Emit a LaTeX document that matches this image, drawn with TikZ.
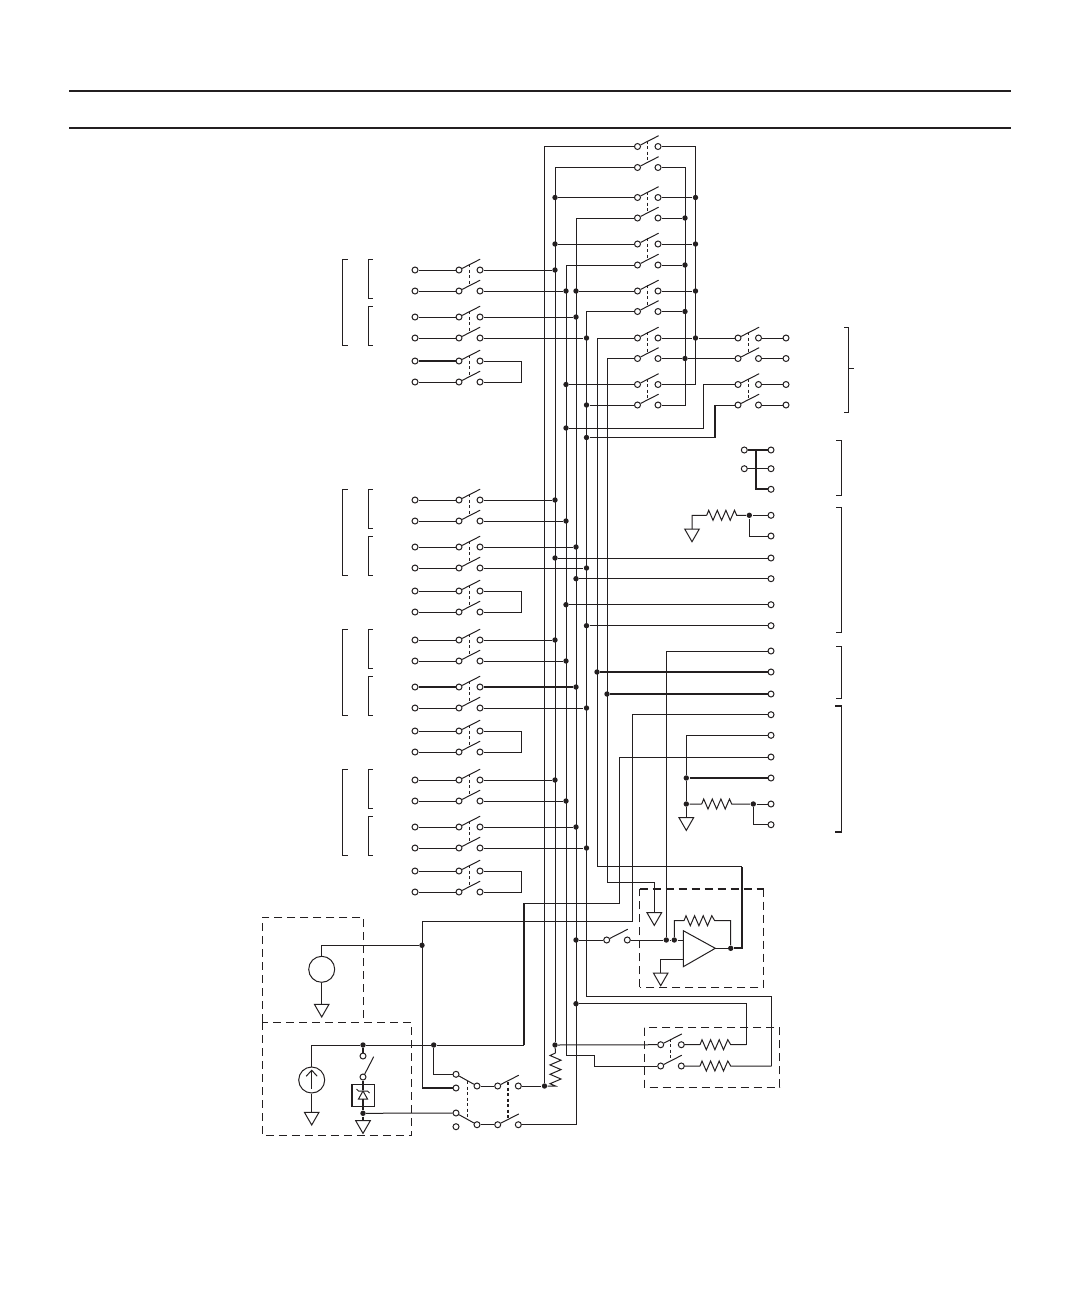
\documentclass[tikz,border=0pt]{standalone}
\usetikzlibrary{arrows.meta}
\definecolor{ink}{HTML}{231F20}
\tikzset{
  x=1pt,y=-1pt,
  term/.style={circle,draw=ink,line width=1pt,fill=white,inner sep=0pt,minimum size=6pt},
  jdot/.style={circle,fill=ink,draw=none,inner sep=0pt,minimum size=5.4pt},
  heavy/.style={line width=2pt},
  dashlink/.style={line width=1pt,dash pattern=on 3pt off 2.5pt},
  boxdash/.style={line width=1pt,dash pattern=on 8pt off 5pt},
  resh/.style={to path={(\tikztostart) -- ++(2,-5) -- ++(4.3,10) -- ++(4.3,-10) -- ++(4.3,10) -- ++(4.3,-10) -- ++(4.3,10) -- ++(4.3,-10) -- (\tikztotarget)}},
  resv/.style={to path={(\tikztostart) -- ++(-5.5,2.5) -- ++(11,4.7) -- ++(-11,4.7) -- ++(11,4.7) -- ++(-11,4.7) -- ++(11,4.7) -- ++(-11,4.7) -- (\tikztotarget)}},
}
\newcommand\swt[4]{%
  \node[term] (#1L) at (#2,#4) {};
  \node[term] (#1R) at (#3,#4) {};
  \draw (#1L.27) -- ++(18,-9.2);
}
\newcommand\lnk[2]{\draw[dashlink] ([shift={(10,-6)}]#1L.center) -- ([shift={(10,-6)}]#2L.center);}
\newcommand\gnd[3]{%
  \coordinate (#1) at (#2,#3);
  \draw ([shift={(-7.3,0)}]#1) -- ([shift={(7.3,0)}]#1) -- ([shift={(0,12.7)}]#1) -- cycle;
}
\newcommand\brk[4]{%  x, tick end, y1, y2
  \draw (#2,#3) -- (#1,#3) -- (#1,#4) -- (#2,#4);
}
\begin{document}
\begin{tikzpicture}[color=ink,line width=1pt,line join=miter]
\useasboundingbox (0,0) rectangle (1080,1296);
% header rules
\coordinate (h1a) at (69,91); \coordinate (h1b) at (1011,91);
\coordinate (h2a) at (69,128); \coordinate (h2b) at (1011,128);
\draw[line width=2pt] (h1a) -- (h1b);
\draw[line width=2pt] (h2a) -- (h2b);

% left switch groups
\foreach \grp/\off in {a/0,b/230,c/370,d/510}{
  \foreach \rw/\dy in {1/0,2/21,3/47,4/68,5/91,6/112}{
    \pgfmathsetmacro\yy{270+\off+\dy}
    \node[term] (\grp\rw i) at (415,\yy) {};
    \swt{\grp\rw}{459}{480}{\yy}
    \draw (\grp\rw i) -- (\grp\rw L);
  }
  \lnk{\grp1}{\grp2}\lnk{\grp3}{\grp4}\lnk{\grp5}{\grp6}
  \foreach \rw/\bx in {1/555,2/566,3/576,4/586.5}{
    \node[jdot] (\grp\rw d) at (\bx,0|-\grp\rw R) {};
    \draw (\grp\rw R) -- (\grp\rw d);
  }
  \coordinate (\grp lp) at (521,0|-\grp5R);
  \draw (\grp5R) -- (\grp lp) |- (\grp6R);
  % brackets
  \pgfmathsetmacro\ya{259.3+\off}\pgfmathsetmacro\yb{345.7+\off}
  \pgfmathsetmacro\yc{298.3+\off}\pgfmathsetmacro\yd{306.3+\off}
  \brk{342.3}{347.7}{\ya}{\yb}
  \brk{368.3}{372.7}{\ya}{\yc}
  \brk{368.3}{372.7}{\yd}{\yb}
}
\draw[heavy] (a5i) -- (a5L);
\draw[heavy] (c3i) -- (c3L);
\draw[heavy] (c3R) -- (c3d);

% upper switches
\foreach \rw/\yy in {1/146.5,2/167.5,3/197.5,4/218,5/244,6/265,7/291,8/311.5,9/338,10/358.5,11/384.5,12/405}{
  \swt{u\rw}{637.5}{658}{\yy}
}
\foreach \p/\q in {1/2,3/4,5/6,7/8,9/10,11/12}{\lnk{u\p}{u\q}}
% junctions, upper switch left
\foreach \rw/\bx in {3/555,5/555,7/576,11/566,12/586.5}{
  \node[jdot] (ul\rw) at (\bx,0|-u\rw L) {};
  \draw (u\rw L) -- (ul\rw);
}
% junctions, upper switch right
\foreach \rw/\bx in {3/695.5,4/685,5/695.5,6/685,7/695.5,8/685,9/695.5,10/685}{
  \node[jdot] (ur\rw) at (\bx,0|-u\rw R) {};
  \draw (u\rw R) -- (ur\rw);
}
\coordinate (cr1) at (695.5,146.5); \coordinate (cr2) at (685,167.5);
\coordinate (cr11) at (695.5,384.5); \coordinate (cr12) at (685,405);
\draw (u1R) -- (cr1) -- (cr11) -- (u11R);
\draw (u2R) -- (cr2) -- (cr12) -- (u12R);

% output switches right of matrix
\foreach \rw/\yy in {1/338,2/358.5,3/384.5,4/405}{
  \swt{r\rw}{738}{758.5}{\yy}
  \node[term] (re\rw) at (786,\yy) {};
  \draw (r\rw R) -- (re\rw);
}
\lnk{r1}{r2}\lnk{r3}{r4}
\draw (ur9) -- (r1L);
\draw (ur10) -- (r2L);
\node[jdot] (j428) at (566,428) {};
\node[jdot] (j437) at (586.5,437.5) {};
\coordinate (k428) at (703,428); \coordinate (k437) at (715,437.5);
\draw (r3L) -| (k428) -- (j428);
\draw (k437) -- (j437);
\coordinate (k405) at (715,405);
\draw (r4L) -- (k405);
\draw[heavy] (k405) -- (k437);

% right hand brackets
\brk{848.7}{844.3}{327.3}{412.3}
\coordinate (bt1) at (848.7,368.7); \coordinate (bt2) at (854,368.7);
\draw (bt1) -- (bt2);
\brk{841.7}{836}{440}{495}
\brk{841.7}{836}{507.3}{632.3}
\brk{841.7}{836}{646}{698.3}
\brk{841.7}{836}{705.7}{832.3}
\coordinate (bk1) at (835,705.7); \coordinate (bk2) at (841.7,705.7);
\coordinate (bk3) at (835,832.3); \coordinate (bk4) at (841.7,832.3);
\draw[heavy] (bk1) -- (bk2);
\draw[heavy] (bk3) -- (bk4);

% strap block
\node[term] (s1) at (744.3,450) {}; \node[term] (s2) at (771,450) {};
\node[term] (s3) at (744.3,468.7) {}; \node[term] (s4) at (771,468.7) {};
\node[term] (s5) at (771,489.3) {};
\coordinate (sv) at (756,450);
\draw[heavy] (s1) -- (s2);
\draw (s3) -- (s4);
\draw[heavy] (sv) |- (s5);

% right terminals
\foreach \nm/\yy in {t1/515.3,t2/536,t3/558,t4/578.7,t5/604.7,t6/625.7,t7/651,t8/672,t9/694,t10/714.7,t11/735.3,t12/757,t13/778,t14/804,t15/824.7}{
  \node[term] (\nm) at (771,\yy) {};
}
\node[jdot] (j1) at (749.3,515.3) {};
\draw (j1) -- (t1);
\draw (j1) |- (t2);
\gnd{g1}{692}{529}
\draw (g1) |- (706.7,515.3) to[resh] (736.7,515.3) -- (j1);
\foreach \nm/\bx in {t3/555,t4/576,t5/566,t6/586.5,t8/597,t9/607}{
  \node[jdot] (q\nm) at (\bx,0|-\nm) {};
}
\draw (qt3) -- (t3); \draw (qt4) -- (t4); \draw (qt5) -- (t5); \draw (qt6) -- (t6);
\draw[heavy] (qt8) -- (t8); \draw[heavy] (qt9) -- (t9);

% lower resistor network
\node[jdot] (p13) at (686.3,778) {};
\node[jdot] (p14) at (686.3,804) {};
\node[jdot] (p15) at (753.3,804) {};
\gnd{g2}{686.3}{817.7}
\draw (t11) -| (p13);
\draw (p13) -- (p14) -- (g2);
\draw[heavy] (p13) -- (t13);
\draw (p14) -- (701.7,804) to[resh] (731.7,804) -- (p15);
\draw (p15) -- (t14);
\draw (p15) |- (t15);

% bus A..G
\node[jdot] (dA) at (544.5,1086) {};
\node[jdot] (dB) at (555,1045) {};
\draw (u1L) -| (dA);
\draw (u2L) -| (dB);

% feedback amplifier block
\draw[boxdash] (639.7,987.3) -- (639.7,888.7);
\draw[boxdash,line width=1.8pt] (639.7,888.7) -- (763.7,888.7);
\draw[boxdash] (763.7,888.7) -- (763.7,987.3) -- (639.7,987.3);
\coordinate (apex) at (715.3,948.3);
\coordinate (ampP) at (683.3,940); \coordinate (ampN) at (683.3,959.3);
\draw (683.3,930.7) -- (683.3,966.7) -- (apex) -- cycle;
\swt{m}{606.7}{627.3}{940}
\node[jdot] (dm0) at (576,940) {};
\node[jdot] (dm1) at (666.3,940) {};
\node[jdot] (dm2) at (674.3,940) {};
\node[jdot] (dout) at (730.7,948.3) {};
\draw (dm0) -- (mL);
\draw (mR) -- (dm1) -- (dm2) -- (ampP);
\draw (dm2) |- (684,920.7) to[resh] (714.7,920.7) -| (dout);
\draw (t7) -| (dm1);
\draw (apex) -- (dout);
\coordinate (o1) at (742,948.3);
\coordinate (o2) at (742,866.7);
\coordinate (f1) at (597,866.7);
\draw[heavy] (dout) -- (o1) -- (o2);
\draw (u9L) -| (f1) -- (o2);
\gnd{g3}{654.3}{912.7}
\coordinate (f2) at (607,882.7);
\draw (u10L) -| (f2) -| (g3);
\gnd{g4}{660.7}{973}
\draw (ampN) -| (g4);

% sense resistor block
\draw[boxdash] (644.3,1027.7) rectangle (779.7,1087.3);
\swt{n1}{660.7}{681.3}{1044.7}
\swt{n2}{660.7}{681.3}{1066}
\lnk{n1}{n2}
\draw (n1R) -- (700,1044.7) to[resh] (730.7,1044.7) -- (746.3,1044.7) coordinate (n1c);
\draw (n2R) -- (700,1066) to[resh] (730.7,1066) -- (771.7,1066) coordinate (n2c);
\node[jdot] (dn) at (576,1003.7) {};
\draw (dn) -| (n1c);
\coordinate (e1) at (586.5,996);
\draw (u8L) -| (e1) -| (n2c);
\draw (dB) -- (n1L);
\coordinate (c1) at (566,1055);
\coordinate (c2) at (594.5,1055);
\draw (u6L) -| (c1) -- (c2) |- (n2L);

% lower switch assembly
\node[term] (z1) at (456,1074.3) {};
\node[term] (z2) at (456,1088) {};
\node[term] (z3) at (477,1086) {};
\node[term] (z4) at (497.7,1086) {};
\node[term] (z5) at (518.3,1086) {};
\node[term] (z6) at (456,1113) {};
\node[term] (z7) at (456,1126.7) {};
\node[term] (z8) at (477,1124.7) {};
\node[term] (z9) at (497.7,1124.7) {};
\node[term] (z10) at (518.3,1124.7) {};
\draw (z1) -- (z3);
\draw (z6) -- (z8);
\draw (z3) -- (z4);
\draw (z8) -- (z9);
\draw (z4.27) -- ++(18,-9.2);
\draw (z9.27) -- ++(18,-9.2);
\coordinate (l1a) at (467.3,1081); \coordinate (l1b) at (467.3,1118);
\coordinate (l2a) at (507.7,1082); \coordinate (l2b) at (507.7,1119);
\draw[dashlink] (l1a) -- (l1b);
\draw[dashlink,line width=1.7pt] (l2a) -- (l2b);
\draw (z5) -- (dA);
\draw (dB) -- (555.5,1053) to[resv] (555.5,1086) -- (dA);
\draw (u4L) -| (576,1124.7) -- (z10);

% source block 1
\draw[boxdash] (363.7,1018) -- (363.7,917.3) -- (262.3,917.3) -- (262.3,1022.3);
\draw[boxdash] (262.3,1022.3) rectangle (411.7,1135.7);
\node[circle,draw=ink,line width=1pt,inner sep=0pt,minimum size=26pt] (vs) at (321.7,969.3) {};
\node[jdot] (dv) at (422,945.3) {};
\draw (vs) |- (dv);
\gnd{g5}{321.7}{1004.3}
\draw (vs) -- (g5);
\coordinate (k1) at (422,921.3);
\coordinate (k2) at (632.3,921.3);
\draw (t10) -| (k2) -- (k1) -- (422,1088) coordinate (k3);
\draw[heavy] (k3) -- (z2);

% source block 2
\node[circle,draw=ink,line width=1pt,inner sep=0pt,minimum size=26pt] (is) at (311.7,1080) {};
\draw[-{Straight Barb[length=6pt,width=11pt]}] (311.7,1088.5) -- (311.7,1069.5);
\gnd{g6}{311.7}{1112.3}
\draw (is) -- (g6);
\node[jdot] (di1) at (433.7,1045) {};
\node[jdot] (di2) at (363,1045) {};
\coordinate (w1) at (619.3,903.3);
\coordinate (w2) at (524,903.3);
\coordinate (w3) at (524,1045);
\draw (t12) -| (w1) -- (w2);
\draw[heavy] (w2) -- (w3);
\draw (w3) -- (di1) -- (di2) -| (is);
\draw (di1) |- (z1);
\node[term] (y1) at (363,1056) {};
\node[term] (y2) at (363,1077) {};
\draw[heavy] (di2) -- (y1);
\draw (y2.60) -- (373.7,1056.7);
\node[jdot] (dy) at (363,1113.3) {};
\gnd{g7}{363}{1120.7}
\draw[heavy] (y2) -- (363,1090);
\draw[heavy] (363,1098.5) -- (dy) -- (g7);
\draw (dy) -- (z6);
\draw (351.7,1084.3) rectangle (374.7,1106.7);
\draw[line width=1.8pt] (351.7,1084.3) -- (351.7,1106.7);
\draw (358.5,1099) -- (367.5,1099) -- (363,1091) -- cycle;
\draw (356.5,1089) -- (358.5,1091) -- (367.5,1091) -- (369.5,1093);
\end{tikzpicture}
\end{document}
